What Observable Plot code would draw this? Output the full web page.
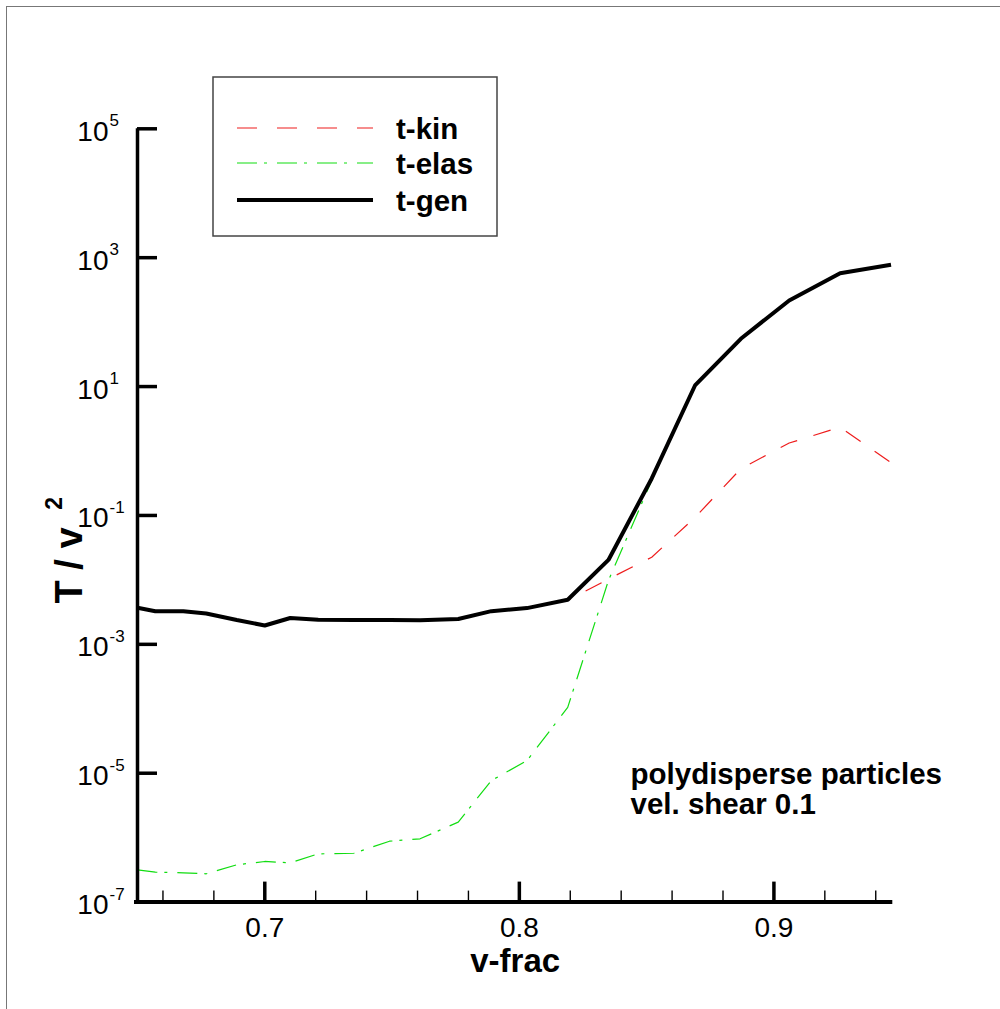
<!DOCTYPE html>
<html><head><meta charset="utf-8">
<script src="https://cdn.jsdelivr.net/npm/d3@7"></script>
<script src="https://cdn.jsdelivr.net/npm/@observablehq/plot@0.6"></script>
<style>
body{margin:0;background:#fff;font-family:"Liberation Sans",Arial,Helvetica,sans-serif;}
#wrap{position:relative;width:1000px;height:1009px;overflow:hidden;}
#frame{position:absolute;left:6px;top:6px;width:1100px;height:1100px;border-left:1.5px solid #777;border-top:1.5px solid #777;}
svg{display:block;}
</style></head><body><div id="wrap"><div id="frame"></div></div>
<script>
// ---- data ----
const vfrac = [0.650,0.657,0.668,0.677,0.689,0.700,0.710,0.721,0.735,0.749,0.761,0.776,0.789,0.803,0.819,0.835,0.852,0.869,0.887,0.906,0.926,0.946];
const tGen  = [3.69e-3,3.27e-3,3.27e-3,3.01e-3,2.38e-3,1.96e-3,2.56e-3,2.41e-3,2.38e-3,2.38e-3,2.37e-3,2.47e-3,3.27e-3,3.65e-3,4.91e-3,2.04e-2,0.375,10.4,55.1,217,574,776];
const tKin  = [3.69e-3,3.27e-3,3.27e-3,3.01e-3,2.38e-3,1.96e-3,2.56e-3,2.41e-3,2.38e-3,2.38e-3,2.37e-3,2.47e-3,3.27e-3,3.65e-3,4.81e-3,1.03e-2,2.25e-2,9.3e-2,0.53,1.33,2.34,0.66];
const tElas = [3.17e-7,2.91e-7,2.85e-7,2.75e-7,3.79e-7,4.27e-7,4.07e-7,5.61e-7,5.73e-7,8.81e-7,9.6e-7,1.74e-6,7.7e-6,1.57e-5,1.05e-4,9.8e-3,0.35,10.3,54.6,216,572,775];
const seriesNames = ["t-kin","t-elas","t-gen"];
const seriesColors = ["#ee1c1c","#11dd11","#000000"];
const xTicks = [0.7,0.8,0.9];
const xMinorTicks = [0.66,0.68,0.72,0.74,0.76,0.78,0.82,0.84,0.86,0.88,0.92,0.94];
const yTicks = [1e5,1e3,1e1,1e-1,1e-3,1e-5,1e-7];
const yTickExponents = ["5","3","1","-1","-3","-5","-7"];
const xLabel = "v-frac";
const yLabel = "T / v";
const yLabelSup = "2";
const annotation = ["polydisperse particles","vel. shear 0.1"];

// ---- layout ----
const W=1000,H=1009,mL=137,mR=107.7,mT=128.3,mB=107.4;
const plotW=W-mL-mR, plotH=H-mT-mB;
const rows=(vals,name)=>vfrac.map((x,i)=>({x,y:vals[i],series:name}));
const yLab=yTicks.map((v,i)=>({v,e:yTickExponents[i]}));
const font='"Liberation Sans", Arial, Helvetica, sans-serif';

const chart=Plot.plot({
  width:W,height:H,marginLeft:mL,marginRight:mR,marginTop:mT,marginBottom:mB,
  style:{fontFamily:font,background:"transparent",overflow:"visible",color:"#000"},
  x:{domain:[0.65,0.9467],axis:null},
  y:{type:"log",domain:[1e-7,1e5],axis:null},
  marks:[
    Plot.line(rows(tKin,"t-kin"),{x:"x",y:"y",stroke:seriesColors[0],strokeWidth:1.2,strokeDasharray:"18,17",strokeLinecap:"butt",strokeLinejoin:"miter"}),
    Plot.line(rows(tElas,"t-elas"),{x:"x",y:"y",stroke:seriesColors[1],strokeWidth:1.2,strokeDasharray:"20,7,3,10",strokeLinecap:"butt",strokeLinejoin:"miter"}),
    Plot.line(rows(tGen,"t-gen"),{x:"x",y:"y",stroke:seriesColors[2],strokeWidth:4,strokeLinejoin:"miter",strokeLinecap:"butt"}),
    // axes
    Plot.ruleY([1e-7],{stroke:"#000",strokeWidth:4,insetLeft:-3}),
    Plot.ruleX([0.65],{stroke:"#000",strokeWidth:3.5,insetBottom:-2}),
    Plot.tickX(xTicks,{x:d=>d,stroke:"#000",strokeWidth:3.5,insetTop:plotH-20}),
    Plot.tickX(xMinorTicks,{x:d=>d,stroke:"#000",strokeWidth:1.4,insetTop:plotH-11}),
    Plot.tickY(yTicks,{y:d=>d,stroke:"#000",strokeWidth:3.5,insetRight:plotW-20}),
    Plot.text(xTicks,{x:d=>d,frameAnchor:"bottom",dy:26,lineAnchor:"middle",text:d=>d.toFixed(1),fontSize:28,fill:"#000"}),
    Plot.text(yLab,{y:"v",frameAnchor:"left",dx:-29,dy:3,textAnchor:"end",lineAnchor:"middle",text:()=>"10",fontSize:28,fill:"#000"}),
    Plot.text(yLab,{y:"v",frameAnchor:"left",dx:-28,dy:-8,textAnchor:"start",lineAnchor:"middle",text:"e",fontSize:17,fill:"#000"}),
    Plot.text([xLabel],{frameAnchor:"bottom",dy:70,lineAnchor:"bottom",text:d=>d,fontSize:33,fontWeight:"bold",fill:"#000"}),
    Plot.text([yLabel],{frameAnchor:"left",dx:-68,dy:50,rotate:-90,textAnchor:"middle",lineAnchor:"middle",text:d=>d,fontSize:38,fontWeight:"bold",fill:"#000"}),
    Plot.text([yLabelSup],{frameAnchor:"left",dx:-83,dy:-12,rotate:-90,textAnchor:"middle",lineAnchor:"middle",text:d=>d,fontSize:23,fontWeight:"bold",fill:"#000"}),
    Plot.text([annotation.join("\n")],{frameAnchor:"top-left",dx:493,dy:634,textAnchor:"start",lineAnchor:"top",lineHeight:1.02,text:d=>d,fontSize:29.5,fontWeight:"bold",fill:"#000"})
  ]
});
chart.style.position="absolute";chart.style.left="0";chart.style.top="0";
document.getElementById("wrap").appendChild(chart);

// ---- legend ----
const lg=d3.select("#wrap").append("svg").attr("id","legend").attr("width",286).attr("height",161)
  .style("position","absolute").style("left","212px").style("top","76px");
lg.append("rect").attr("x",1).attr("y",1).attr("width",284).attr("height",159).attr("fill","#fff").attr("stroke","#444").attr("stroke-width",1.5);
const dashes=["20,20","20,7,3,10",null];
const widths=[1.2,1.2,4];
const rowsY=[52,87,124];
seriesNames.forEach((n,i)=>{
  const l=lg.append("line").attr("x1",25).attr("x2",161).attr("y1",rowsY[i]).attr("y2",rowsY[i])
    .attr("stroke",seriesColors[i]).attr("stroke-width",widths[i]);
  if(dashes[i]) l.attr("stroke-dasharray",dashes[i]);
  lg.append("text").attr("x",184).attr("y",rowsY[i]).attr("dy","0.36em").attr("font-family",font)
    .attr("font-size",29.5).attr("font-weight","bold").text(n);
});
</script></body></html>
